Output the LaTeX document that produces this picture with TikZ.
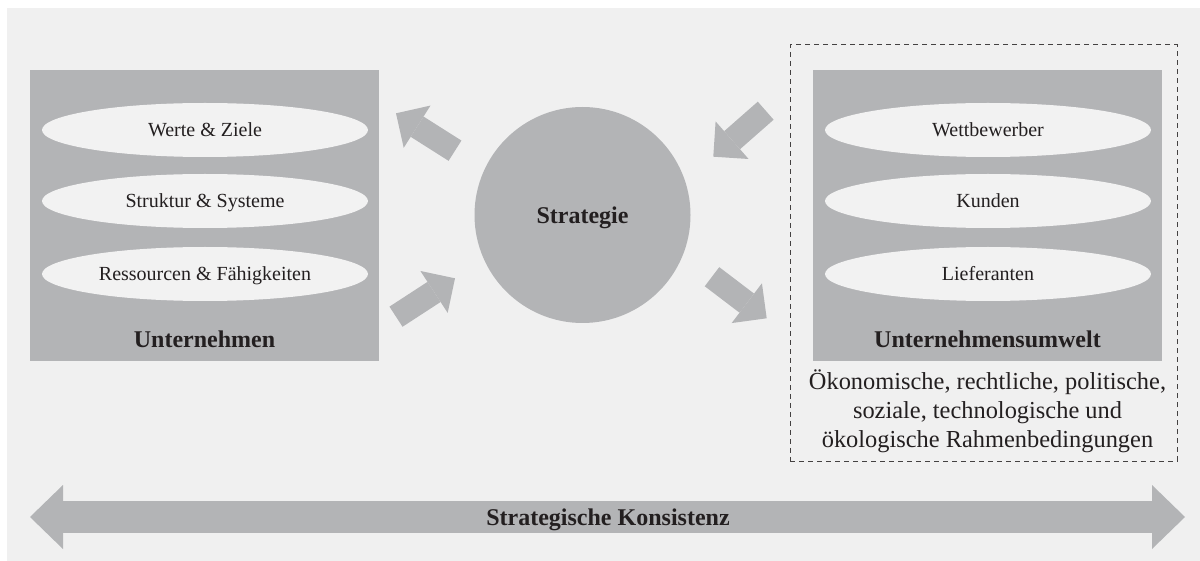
\documentclass[tikz,border=0pt]{standalone}
\usepackage{fontspec}
\setmainfont{Liberation Serif}
\usetikzlibrary{arrows.meta,shapes.geometric}
\definecolor{bg}{HTML}{F0F0F0}
\definecolor{panel}{HTML}{B3B4B6}
\definecolor{oval}{HTML}{F2F2F2}
\definecolor{ink}{HTML}{231F20}
\begin{document}
\begin{tikzpicture}[x=0.5pt,y=-0.5pt,
  panelbox/.style={fill=panel, draw=none, inner sep=0pt, minimum width=174.5pt, minimum height=145.5pt},
  item/.style={ellipse, fill=oval, draw=none, minimum width=163pt, minimum height=27pt, inner sep=0pt,
    font=\fontsize{10}{12}\selectfont, text=ink, text depth=0pt, text height=6.8pt},
  title/.style={font=\fontsize{12}{14}\selectfont\bfseries, text=ink, inner sep=0pt},
  fat/.style={draw=panel, line width=12pt, -{Triangle[length=12.5pt,width=25pt,line width=0pt]}},
  ]
\useasboundingbox (0,0) rectangle (1200,561);
\fill[bg] (7,8) rectangle (1200,561);

% company panel
\node[panelbox] (firm) at (204.5,215.5) {};
\node[item] (werte) at (205,130) {Werte \& Ziele};
\node[item] (struktur) at (205,201) {Struktur \& Systeme};
\node[item] (ress) at (205,274) {Ressourcen \& Fähigkeiten};
\node[title] (firmlbl) at (204.5,339) {Unternehmen};

% environment panel inside dashed frame
\node[draw=ink!85, dash pattern=on 2.5pt off 2pt, line width=0.5pt, minimum width=193.5pt, minimum height=208pt, inner sep=0pt] (frame) at (983.5,253) {};
\node[panelbox] (env) at (987.5,215.5) {};
\node[item] (wett) at (988,130) {Wettbewerber};
\node[item] (kunden) at (988,201) {Kunden};
\node[item] (lief) at (988,274) {Lieferanten};
\node[title] (envlbl) at (987.5,339) {Unternehmensumwelt};
\node[align=center, text=ink, font=\fontsize{12.2}{14.5}\selectfont, inner sep=0pt] (rahmen) at (987.5,411)
  {Ökonomische, rechtliche, politische,\\soziale, technologische und\\ökologische Rahmenbedingungen};

% strategy
\node[circle, fill=panel, minimum size=108pt, inner sep=0pt, title, text depth=0pt, text height=8.2pt] (strat) at (582.5,215) {Strategie};

% block arrows around the strategy
\coordinate (a1s) at (455,150.7);  \coordinate (a1e) at (396,113.3);
\coordinate (a2s) at (396,316.7);  \coordinate (a2e) at (455,278.3);
\coordinate (a3s) at (765.7,110.7); \coordinate (a3e) at (713.3,156.7);
\coordinate (a4s) at (712,276.7);  \coordinate (a4e) at (766.7,318.3);
\draw[fat] (a1s) -- (a1e);
\draw[fat] (a2s) -- (a2e);
\draw[fat] (a3s) -- (a3e);
\draw[fat] (a4s) -- (a4e);

% consistency bar
\coordinate (kl) at (30,517);
\coordinate (kr) at (1185,517);
\draw[draw=panel, line width=16pt,
  {Triangle[length=16.5pt,width=32pt,line width=0pt]}-{Triangle[length=16.5pt,width=32pt,line width=0pt]}] (kl) -- (kr);
\node[title] (konsistenz) at (608,520) {Strategische Konsistenz};
\end{tikzpicture}
\end{document}
